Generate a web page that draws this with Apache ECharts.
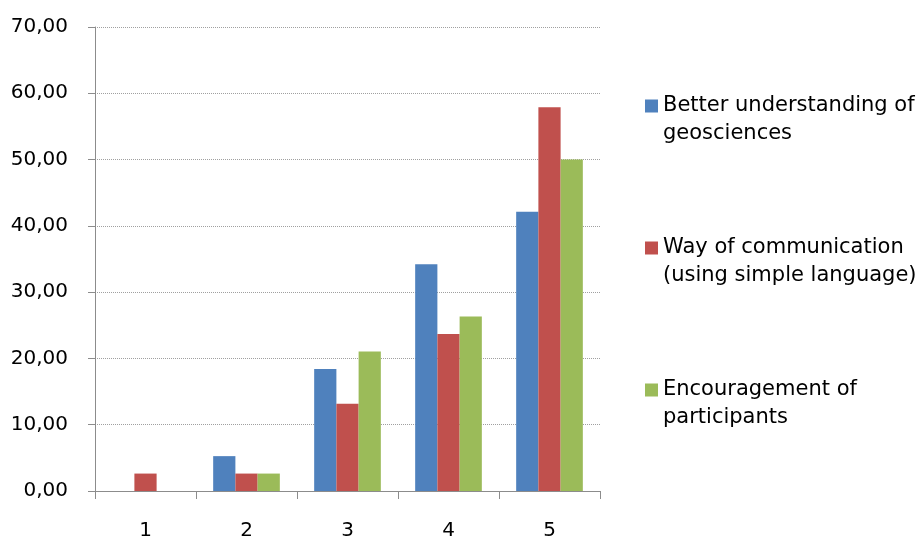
<!DOCTYPE html>
<html>
<head>
<meta charset="utf-8">
<script src="https://cdn.jsdelivr.net/npm/echarts@6/dist/echarts.min.js"></script>
<style>
html,body{margin:0;padding:0;background:#fff;}
#chart{width:920px;height:539px;}
</style>
</head>
<body>
<div id="chart"></div>
<script>
const categories = ['1', '2', '3', '4', '5'];
const seriesNames = ['Better understanding of geosciences', 'Way of communication (using simple language)', 'Encouragement of participants'];
const legendLabels = ['Better understanding of\ngeosciences', 'Way of communication\n(using simple language)', 'Encouragement of\nparticipants'];
const betterUnderstanding = [0, 5.26, 18.42, 34.21, 42.11];
const wayOfCommunication = [2.63, 2.63, 13.16, 23.68, 57.89];
const encouragement = [0, 2.63, 21.05, 26.32, 50.00];
const colors = ['#4F81BD', '#C0504D', '#9BBB59'];

const font = 'DejaVu Sans';
const chart = echarts.init(document.getElementById('chart'), null, {renderer: 'canvas'});
const values = [betterUnderstanding, wayOfCommunication, encouragement];
chart.setOption({
  animation: false,
  color: colors,
  grid: {left: 95, right: 320, top: 27, bottom: 48, containLabel: false, outerBoundsMode: 'none'},
  legend: {
    orient: 'vertical',
    left: 645,
    top: 64,
    padding: 0,
    itemWidth: 13,
    itemHeight: 13,
    itemGap: 58,
    icon: 'rect',
    data: seriesNames,
    formatter: function (name) { return '\n' + legendLabels[seriesNames.indexOf(name)]; },
    textStyle: {fontFamily: font, fontSize: 21, color: '#000', lineHeight: 28}
  },
  xAxis: {
    type: 'category',
    data: categories,
    axisLine: {lineStyle: {color: '#8c8c8c', width: 1}},
    axisTick: {show: true, length: 8, alignWithLabel: false, lineStyle: {color: '#8c8c8c'}},
    axisLabel: {fontFamily: font, fontSize: 20, color: '#000', margin: 30}
  },
  yAxis: {
    type: 'value',
    min: 0, max: 70, interval: 10,
    axisLine: {show: true, lineStyle: {color: '#8c8c8c', width: 1}},
    axisTick: {show: true, length: 7, lineStyle: {color: '#8c8c8c'}},
    splitLine: {show: true, lineStyle: {color: '#a0a0a0', type: [1, 1], width: 1}},
    axisLabel: {fontFamily: font, fontSize: 20, color: '#000', margin: 27,
      formatter: function (v) { return v.toFixed(2).replace('.', ','); }}
  },
  series: seriesNames.map(function (n, i) {
    return {
      name: n, type: 'bar', data: values[i],
      barGap: '0%', barCategoryGap: '34%',
      itemStyle: {color: colors[i]}
    };
  })
});
</script>
</body>
</html>
